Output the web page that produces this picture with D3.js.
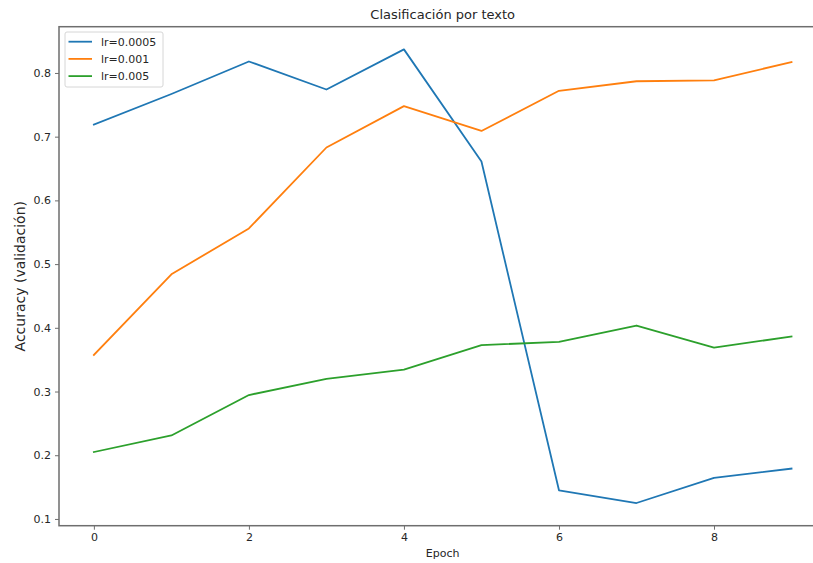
<!DOCTYPE html>
<html>
<head>
<meta charset="utf-8">
<script src="https://cdn.jsdelivr.net/npm/d3@7"></script>
<style>
  html, body { margin: 0; padding: 0; background: #fff; }
  svg { display: block; font-family: "DejaVu Sans", sans-serif; }
</style>
</head>
<body>
<svg id="chart" width="813" height="563"></svg>
<script>
// Validation accuracy per epoch for three learning rates
const epochs = [0, 1, 2, 3, 4, 5, 6, 7, 8, 9];
const seriesNames = ["lr=0.0005", "lr=0.001", "lr=0.005"];
const accLr0005 = [0.719, 0.767, 0.818, 0.774, 0.837, 0.661, 0.145, 0.125, 0.1645, 0.179];
const accLr001  = [0.3575, 0.484, 0.556, 0.683, 0.748, 0.709, 0.772, 0.787, 0.7885, 0.817];
const accLr005  = [0.205, 0.231, 0.2945, 0.320, 0.3344, 0.3728, 0.378, 0.4036, 0.369, 0.3863];
const seriesColors = ["#1f77b4", "#ff7f0e", "#2ca02c"];
const xTicks = [0, 2, 4, 6, 8];
const yTicks = [0.1, 0.2, 0.3, 0.4, 0.5, 0.6, 0.7, 0.8];

const svg = d3.select("#chart");
const plot = { left: 59, right: 826.4, top: 26.7, bottom: 525.7 };

// matplotlib-style 5% margins around the data range
const allVals = accLr0005.concat(accLr001, accLr005);
const yMin = d3.min(allVals), yMax = d3.max(allVals);
const yPad = (yMax - yMin) * 0.05;
const xPad = (d3.max(epochs) - d3.min(epochs)) * 0.05;

const x = d3.scaleLinear()
  .domain([d3.min(epochs) - xPad, d3.max(epochs) + xPad])
  .range([plot.left, plot.right]);
const y = d3.scaleLinear()
  .domain([yMin - yPad, yMax + yPad])
  .range([plot.bottom, plot.top]);

const textColor = "#262626";
const spineColor = "#6e6e6e";

// axes
const xAxis = svg.append("g")
  .attr("transform", `translate(0,${plot.bottom})`)
  .call(d3.axisBottom(x).tickValues(xTicks).tickFormat(d3.format("d")).tickSizeOuter(0).tickSize(4).tickPadding(4));
const yAxis = svg.append("g")
  .attr("transform", `translate(${plot.left},0)`)
  .call(d3.axisLeft(y).tickValues(yTicks).tickFormat(d3.format(".1f")).tickSizeOuter(0).tickSize(4).tickPadding(4));

[xAxis, yAxis].forEach(g => {
  g.select(".domain").remove();
  g.selectAll(".tick line").attr("stroke", spineColor).attr("stroke-width", 1);
  g.selectAll(".tick text").attr("fill", textColor).attr("font-size", 11)
    .attr("font-family", "DejaVu Sans, sans-serif");
});

// spines
svg.append("rect")
  .attr("x", plot.left).attr("y", plot.top)
  .attr("width", plot.right - plot.left).attr("height", plot.bottom - plot.top)
  .attr("fill", "none").attr("stroke", spineColor).attr("stroke-width", 1.5);

// lines
const line = d3.line().x((d, i) => x(epochs[i])).y(d => y(d));
const seriesData = [accLr0005, accLr001, accLr005];
seriesData.forEach((vals, k) => {
  svg.append("path")
    .datum(vals)
    .attr("d", line)
    .attr("fill", "none")
    .attr("stroke", seriesColors[k])
    .attr("stroke-width", 1.8)
    .attr("stroke-linejoin", "round")
    .attr("stroke-linecap", "square");
});

// title and axis labels
svg.append("text")
  .attr("x", (plot.left + plot.right) / 2).attr("y", 19)
  .attr("text-anchor", "middle").attr("font-size", 13).attr("fill", textColor)
  .text("Clasificación por texto");
svg.append("text")
  .attr("x", (plot.left + plot.right) / 2).attr("y", 557)
  .attr("text-anchor", "middle").attr("font-size", 11).attr("fill", textColor)
  .text("Epoch");
svg.append("text")
  .attr("transform", `translate(25,${(plot.top + plot.bottom) / 2}) rotate(-90)`)
  .attr("text-anchor", "middle").attr("font-size", 14).attr("fill", textColor)
  .text("Accuracy (validación)");

// legend
const legend = svg.append("g").attr("transform", "translate(65,32)");
legend.append("rect")
  .attr("width", 98).attr("height", 55).attr("rx", 2)
  .attr("fill", "#fff").attr("fill-opacity", 0.8)
  .attr("stroke", "#d6d6d6").attr("stroke-width", 1);
seriesNames.forEach((name, k) => {
  const yy = 9.7 + k * 17.2;
  legend.append("line")
    .attr("x1", 3.5).attr("x2", 27).attr("y1", yy).attr("y2", yy)
    .attr("stroke", seriesColors[k]).attr("stroke-width", 1.8);
  legend.append("text")
    .attr("x", 36).attr("y", yy + 4).attr("font-size", 11).attr("fill", textColor)
    .text(name);
});
</script>
</body>
</html>
